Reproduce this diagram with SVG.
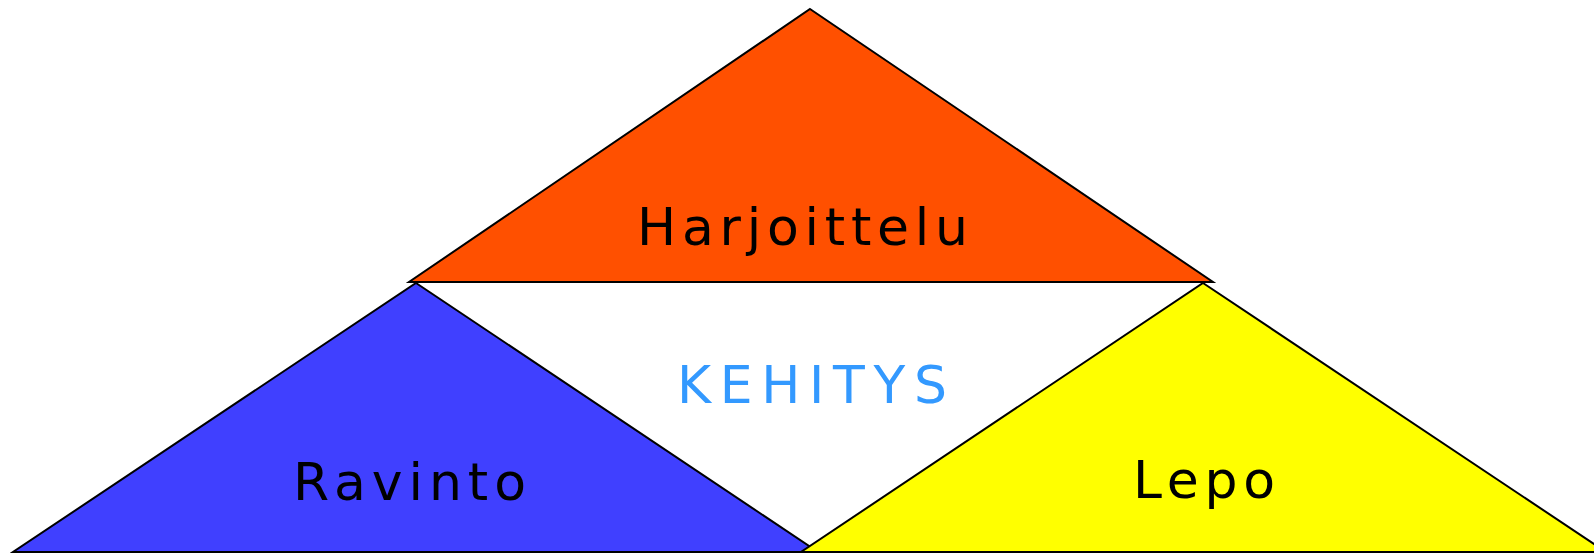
<svg xmlns="http://www.w3.org/2000/svg" width="1594" height="553" viewBox="0 0 1594 553">
<style>
.tri{stroke:#000;stroke-width:2;stroke-linejoin:miter}
.lbl{font-family:"DejaVu Sans","Liberation Sans",sans-serif;font-size:52px;fill:#000}
</style>
<rect width="1594" height="553" fill="#fff"/>
<g id="harjoittelu">
<polygon class="tri" points="810,9 1213,282 409,282" fill="#FF5000"/>
<text class="lbl" x="637" y="245" textLength="331" lengthAdjust="spacing">Harjoittelu</text>
</g>
<g id="ravinto">
<polygon class="tri" points="416,283 818,552 13,552" fill="#4040FF"/>
<text class="lbl" x="293" y="500" textLength="233" lengthAdjust="spacing">Ravinto</text>
</g>
<g id="lepo">
<polygon class="tri" points="1203,283 1606,552 801,552" fill="#FFFF00"/>
<text class="lbl" x="1133" y="498" textLength="142" lengthAdjust="spacing">Lepo</text>
</g>
<g id="kehitys">
<text x="677" y="403" textLength="270" lengthAdjust="spacing" style="font-family:'DejaVu Sans','Liberation Sans',sans-serif;font-size:52px;fill:#3399FF">KEHITYS</text>
</g>
<g id="connectors"></g>
</svg>
